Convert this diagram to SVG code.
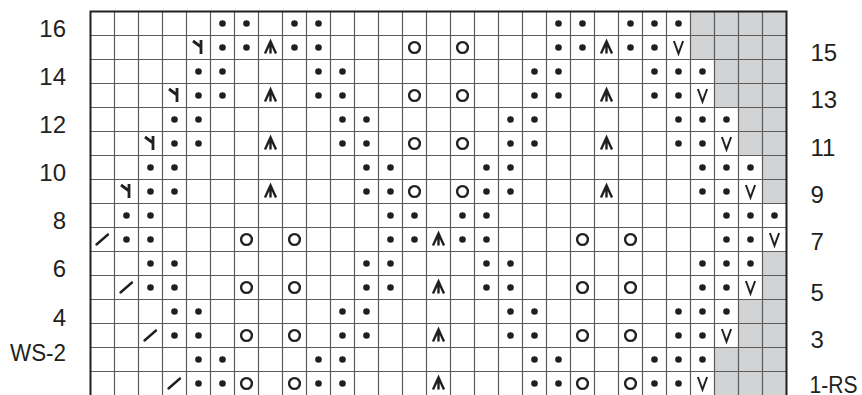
<svg xmlns="http://www.w3.org/2000/svg" xmlns:xlink="http://www.w3.org/1999/xlink" width="862" height="395" viewBox="0 0 862 395">
<style>
.lbl{font-family:"Liberation Sans","Noto Sans",Arial,sans-serif;font-size:24px;fill:#231f20}
.l{text-anchor:end}
.gray{fill:#d1d3d4}
.grid{fill:none;stroke:#5b5b5b;stroke-width:1.2}
.border{fill:none;stroke:#231f20;stroke-width:2}
.sym{fill:none;stroke:#231f20}
</style>
<defs>
<circle id="d" r="3.3" fill="#231f20"/>
<circle id="o" r="5.4" class="sym" stroke-width="2.4"/>
<path id="a" d="M-5.5,6 L0,-6 L5.5,6 M0,-5 V6" class="sym" stroke-width="2.4"/>
<path id="v" d="M-4.6,-6.5 L0,6 L4.6,-6.5" class="sym" stroke-width="2"/>
<path id="y" d="M-5.5,-6.5 L2,-1 M2.5,-7.5 V6.5" class="sym" stroke-width="2.8"/>
<path id="s" d="M-6,5 L5.5,-5" class="sym" stroke-width="2.4" stroke-linecap="round"/>
</defs>
<rect width="862" height="395" fill="#fff"/>
<g id="gray-cells" class="gray">
<rect x="690.5" y="11.5" width="96" height="48"/>
<rect x="714.5" y="59.5" width="72" height="48"/>
<rect x="738.5" y="107.5" width="48" height="48"/>
<rect x="762.5" y="155.5" width="24" height="48"/>
<rect x="762.5" y="251.5" width="24" height="48"/>
<rect x="738.5" y="299.5" width="48" height="48"/>
<rect x="714.5" y="347.5" width="72" height="48"/>
</g>
<g id="grid">
<path class="grid" d="M114.5,11.5V396M138.5,11.5V396M162.5,11.5V396M186.5,11.5V396M210.5,11.5V396M234.5,11.5V396M258.5,11.5V396M282.5,11.5V396M306.5,11.5V396M330.5,11.5V396M354.5,11.5V396M378.5,11.5V396M402.5,11.5V396M426.5,11.5V396M450.5,11.5V396M474.5,11.5V396M498.5,11.5V396M522.5,11.5V396M546.5,11.5V396M570.5,11.5V396M594.5,11.5V396M618.5,11.5V396M642.5,11.5V396M666.5,11.5V396M690.5,11.5V396M714.5,11.5V396M738.5,11.5V396M762.5,11.5V396
M90.5,35.5H786.5M90.5,59.5H786.5M90.5,83.5H786.5M90.5,107.5H786.5M90.5,131.5H786.5M90.5,155.5H786.5M90.5,179.5H786.5M90.5,203.5H786.5M90.5,227.5H786.5M90.5,251.5H786.5M90.5,275.5H786.5M90.5,299.5H786.5M90.5,323.5H786.5M90.5,347.5H786.5M90.5,371.5H786.5"/>
<path class="border" d="M90.5,397V11.5H786.5V397"/>
</g>
<g id="row16">
<use href="#d" x="222.5" y="23.5"/><use href="#d" x="246.5" y="23.5"/><use href="#d" x="294.5" y="23.5"/><use href="#d" x="318.5" y="23.5"/>
<use href="#d" x="558.5" y="23.5"/><use href="#d" x="582.5" y="23.5"/><use href="#d" x="630.5" y="23.5"/><use href="#d" x="654.5" y="23.5"/><use href="#d" x="678.5" y="23.5"/>
</g>
<g id="row15">
<use href="#y" x="198.5" y="47.5"/><use href="#d" x="222.5" y="47.5"/><use href="#d" x="246.5" y="47.5"/><use href="#a" x="270.5" y="47.5"/><use href="#d" x="294.5" y="47.5"/><use href="#d" x="318.5" y="47.5"/>
<use href="#o" x="414.5" y="47.5"/><use href="#o" x="462.5" y="47.5"/>
<use href="#d" x="558.5" y="47.5"/><use href="#d" x="582.5" y="47.5"/><use href="#a" x="606.5" y="47.5"/><use href="#d" x="630.5" y="47.5"/><use href="#d" x="654.5" y="47.5"/><use href="#v" x="678.5" y="47.5"/>
</g>
<g id="row14">
<use href="#d" x="198.5" y="71.5"/><use href="#d" x="222.5" y="71.5"/><use href="#d" x="318.5" y="71.5"/><use href="#d" x="342.5" y="71.5"/>
<use href="#d" x="534.5" y="71.5"/><use href="#d" x="558.5" y="71.5"/><use href="#d" x="654.5" y="71.5"/><use href="#d" x="678.5" y="71.5"/><use href="#d" x="702.5" y="71.5"/>
</g>
<g id="row13">
<use href="#y" x="174.5" y="95.5"/><use href="#d" x="198.5" y="95.5"/><use href="#d" x="222.5" y="95.5"/><use href="#a" x="270.5" y="95.5"/><use href="#d" x="318.5" y="95.5"/><use href="#d" x="342.5" y="95.5"/>
<use href="#o" x="414.5" y="95.5"/><use href="#o" x="462.5" y="95.5"/>
<use href="#d" x="534.5" y="95.5"/><use href="#d" x="558.5" y="95.5"/><use href="#a" x="606.5" y="95.5"/><use href="#d" x="654.5" y="95.5"/><use href="#d" x="678.5" y="95.5"/><use href="#v" x="702.5" y="95.5"/>
</g>
<g id="row12">
<use href="#d" x="174.5" y="119.5"/><use href="#d" x="198.5" y="119.5"/><use href="#d" x="342.5" y="119.5"/><use href="#d" x="366.5" y="119.5"/>
<use href="#d" x="510.5" y="119.5"/><use href="#d" x="534.5" y="119.5"/><use href="#d" x="678.5" y="119.5"/><use href="#d" x="702.5" y="119.5"/><use href="#d" x="726.5" y="119.5"/>
</g>
<g id="row11">
<use href="#y" x="150.5" y="143.5"/><use href="#d" x="174.5" y="143.5"/><use href="#d" x="198.5" y="143.5"/><use href="#a" x="270.5" y="143.5"/><use href="#d" x="342.5" y="143.5"/><use href="#d" x="366.5" y="143.5"/>
<use href="#o" x="414.5" y="143.5"/><use href="#o" x="462.5" y="143.5"/>
<use href="#d" x="510.5" y="143.5"/><use href="#d" x="534.5" y="143.5"/><use href="#a" x="606.5" y="143.5"/><use href="#d" x="678.5" y="143.5"/><use href="#d" x="702.5" y="143.5"/><use href="#v" x="726.5" y="143.5"/>
</g>
<g id="row10">
<use href="#d" x="150.5" y="167.5"/><use href="#d" x="174.5" y="167.5"/><use href="#d" x="366.5" y="167.5"/><use href="#d" x="390.5" y="167.5"/>
<use href="#d" x="486.5" y="167.5"/><use href="#d" x="510.5" y="167.5"/><use href="#d" x="702.5" y="167.5"/><use href="#d" x="726.5" y="167.5"/><use href="#d" x="750.5" y="167.5"/>
</g>
<g id="row9">
<use href="#y" x="126.5" y="191.5"/><use href="#d" x="150.5" y="191.5"/><use href="#d" x="174.5" y="191.5"/><use href="#a" x="270.5" y="191.5"/><use href="#d" x="366.5" y="191.5"/><use href="#d" x="390.5" y="191.5"/>
<use href="#o" x="414.5" y="191.5"/><use href="#o" x="462.5" y="191.5"/>
<use href="#d" x="486.5" y="191.5"/><use href="#d" x="510.5" y="191.5"/><use href="#a" x="606.5" y="191.5"/><use href="#d" x="702.5" y="191.5"/><use href="#d" x="726.5" y="191.5"/><use href="#v" x="750.5" y="191.5"/>
</g>
<g id="row8">
<use href="#d" x="126.5" y="215.5"/><use href="#d" x="150.5" y="215.5"/><use href="#d" x="390.5" y="215.5"/><use href="#d" x="414.5" y="215.5"/>
<use href="#d" x="462.5" y="215.5"/><use href="#d" x="486.5" y="215.5"/><use href="#d" x="726.5" y="215.5"/><use href="#d" x="750.5" y="215.5"/><use href="#d" x="774.5" y="215.5"/>
</g>
<g id="row7">
<use href="#s" x="102.5" y="239.5"/><use href="#d" x="126.5" y="239.5"/><use href="#d" x="150.5" y="239.5"/><use href="#o" x="246.5" y="239.5"/><use href="#o" x="294.5" y="239.5"/>
<use href="#d" x="390.5" y="239.5"/><use href="#d" x="414.5" y="239.5"/><use href="#a" x="438.5" y="239.5"/><use href="#d" x="462.5" y="239.5"/><use href="#d" x="486.5" y="239.5"/>
<use href="#o" x="582.5" y="239.5"/><use href="#o" x="630.5" y="239.5"/><use href="#d" x="726.5" y="239.5"/><use href="#d" x="750.5" y="239.5"/><use href="#v" x="774.5" y="239.5"/>
</g>
<g id="row6">
<use href="#d" x="150.5" y="263.5"/><use href="#d" x="174.5" y="263.5"/><use href="#d" x="366.5" y="263.5"/><use href="#d" x="390.5" y="263.5"/>
<use href="#d" x="486.5" y="263.5"/><use href="#d" x="510.5" y="263.5"/><use href="#d" x="702.5" y="263.5"/><use href="#d" x="726.5" y="263.5"/><use href="#d" x="750.5" y="263.5"/>
</g>
<g id="row5">
<use href="#s" x="126.5" y="287.5"/><use href="#d" x="150.5" y="287.5"/><use href="#d" x="174.5" y="287.5"/><use href="#o" x="246.5" y="287.5"/><use href="#o" x="294.5" y="287.5"/>
<use href="#d" x="366.5" y="287.5"/><use href="#d" x="390.5" y="287.5"/><use href="#a" x="438.5" y="287.5"/><use href="#d" x="486.5" y="287.5"/><use href="#d" x="510.5" y="287.5"/>
<use href="#o" x="582.5" y="287.5"/><use href="#o" x="630.5" y="287.5"/><use href="#d" x="702.5" y="287.5"/><use href="#d" x="726.5" y="287.5"/><use href="#v" x="750.5" y="287.5"/>
</g>
<g id="row4">
<use href="#d" x="174.5" y="311.5"/><use href="#d" x="198.5" y="311.5"/><use href="#d" x="342.5" y="311.5"/><use href="#d" x="366.5" y="311.5"/>
<use href="#d" x="510.5" y="311.5"/><use href="#d" x="534.5" y="311.5"/><use href="#d" x="678.5" y="311.5"/><use href="#d" x="702.5" y="311.5"/><use href="#d" x="726.5" y="311.5"/>
</g>
<g id="row3">
<use href="#s" x="150.5" y="335.5"/><use href="#d" x="174.5" y="335.5"/><use href="#d" x="198.5" y="335.5"/><use href="#o" x="246.5" y="335.5"/><use href="#o" x="294.5" y="335.5"/>
<use href="#d" x="342.5" y="335.5"/><use href="#d" x="366.5" y="335.5"/><use href="#a" x="438.5" y="335.5"/><use href="#d" x="510.5" y="335.5"/><use href="#d" x="534.5" y="335.5"/>
<use href="#o" x="582.5" y="335.5"/><use href="#o" x="630.5" y="335.5"/><use href="#d" x="678.5" y="335.5"/><use href="#d" x="702.5" y="335.5"/><use href="#v" x="726.5" y="335.5"/>
</g>
<g id="row2">
<use href="#d" x="198.5" y="359.5"/><use href="#d" x="222.5" y="359.5"/><use href="#d" x="318.5" y="359.5"/><use href="#d" x="342.5" y="359.5"/>
<use href="#d" x="534.5" y="359.5"/><use href="#d" x="558.5" y="359.5"/><use href="#d" x="654.5" y="359.5"/><use href="#d" x="678.5" y="359.5"/><use href="#d" x="702.5" y="359.5"/>
</g>
<g id="row1">
<use href="#s" x="174.5" y="383.5"/><use href="#d" x="198.5" y="383.5"/><use href="#d" x="222.5" y="383.5"/><use href="#o" x="246.5" y="383.5"/><use href="#o" x="294.5" y="383.5"/><use href="#d" x="318.5" y="383.5"/><use href="#d" x="342.5" y="383.5"/>
<use href="#a" x="438.5" y="383.5"/>
<use href="#d" x="534.5" y="383.5"/><use href="#d" x="558.5" y="383.5"/><use href="#o" x="582.5" y="383.5"/><use href="#o" x="630.5" y="383.5"/><use href="#d" x="654.5" y="383.5"/><use href="#d" x="678.5" y="383.5"/><use href="#v" x="702.5" y="383.5"/>
</g>
<g id="labels-left" class="lbl l">
<text x="66" y="36.5">16</text>
<text x="66" y="84.5">14</text>
<text x="66" y="132.5">12</text>
<text x="66" y="180.5">10</text>
<text x="66" y="229">8</text>
<text x="66" y="277">6</text>
<text x="66" y="325.5">4</text>
<text x="66" y="361" textLength="56" lengthAdjust="spacingAndGlyphs">WS-2</text>
</g>
<g id="labels-right" class="lbl">
<text x="810.5" y="61">15</text>
<text x="810.5" y="107.5">13</text>
<text x="810.5" y="155.5">11</text>
<text x="810.5" y="202.5">9</text>
<text x="810.5" y="250">7</text>
<text x="810.5" y="300.5">5</text>
<text x="810.5" y="348">3</text>
<text x="809.5" y="392.5" textLength="48" lengthAdjust="spacingAndGlyphs">1-RS</text>
</g>
</svg>
